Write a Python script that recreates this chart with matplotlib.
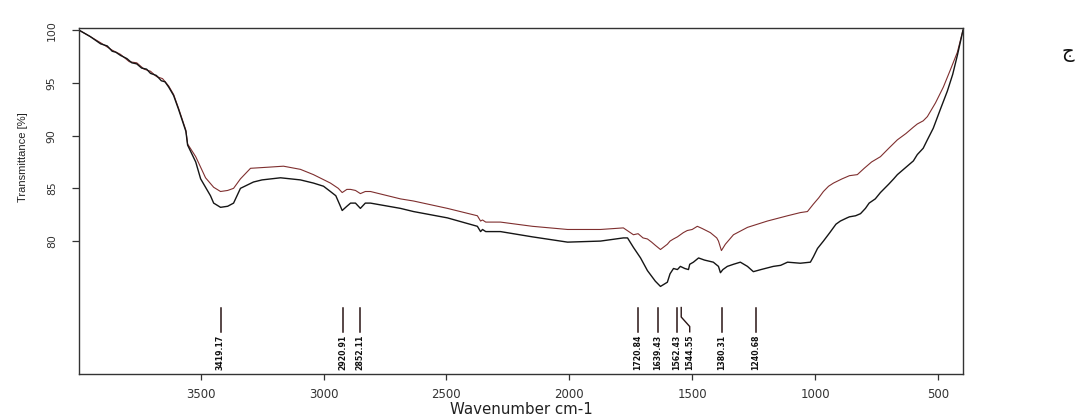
import numpy as np
import matplotlib.pyplot as plt

# -----------------------------
# Data
# -----------------------------
# lower (black) spectrum
wn_black = [3995, 3950, 3907, 3880, 3860, 3845, 3826, 3800, 3780, 3760, 3740, 3720,
            3704, 3680, 3660, 3645, 3630, 3610, 3590, 3560, 3553, 3520, 3500, 3460,
            3447, 3419, 3390, 3366, 3338, 3285, 3250, 3175, 3094, 3041, 3000, 2972,
            2950, 2935, 2924, 2905, 2890, 2870, 2850, 2830, 2809, 2687, 2634, 2496,
            2374, 2361, 2353, 2340, 2280, 2150, 2007, 1873, 1780, 1763, 1739, 1710,
            1682, 1650, 1629, 1601, 1590, 1576, 1560, 1548, 1530, 1515, 1510, 1495,
            1474, 1450, 1414, 1393, 1385, 1375, 1357, 1332, 1304, 1275, 1251, 1220,
            1170, 1140, 1112, 1060, 1019, 1007, 990, 966, 940, 915, 897, 870, 860,
            835, 815, 795, 780, 755, 734, 700, 680, 665, 640, 620, 600, 584, 560, 543,
            519, 490, 462, 440, 421, 398]
tr_black = [100.0, 99.4, 98.7, 98.5, 98.0, 97.9, 97.6, 97.3, 96.9, 96.8, 96.4, 96.3,
            95.9, 95.7, 95.2, 95.1, 94.6, 93.8, 92.5, 90.4, 89.1, 87.5, 85.9, 84.3,
            83.6, 83.2, 83.3, 83.6, 85.0, 85.6, 85.8, 86.0, 85.8, 85.5, 85.2, 84.7,
            84.3, 83.5, 82.9, 83.3, 83.6, 83.6, 83.1, 83.6, 83.6, 83.1, 82.8, 82.2,
            81.4, 80.9, 81.1, 80.9, 80.9, 80.4, 79.9, 80.0, 80.3, 80.3, 79.4, 78.4,
            77.2, 76.2, 75.7, 76.1, 76.9, 77.4, 77.3, 77.6, 77.4, 77.3, 77.8, 78.0,
            78.4, 78.2, 78.0, 77.6, 77.0, 77.3, 77.6, 77.8, 78.0, 77.6, 77.1, 77.3,
            77.6, 77.7, 78.0, 77.9, 78.0, 78.5, 79.3, 80.0, 80.8, 81.6, 81.9, 82.2,
            82.3, 82.4, 82.6, 83.1, 83.6, 84.0, 84.6, 85.4, 85.9, 86.3, 86.8, 87.2,
            87.6, 88.2, 88.8, 89.6, 90.7, 92.5, 94.2, 95.8, 97.6, 100.0]

# upper (dark red) spectrum
wn_red = [3995, 3950, 3907, 3880, 3860, 3826, 3790, 3760, 3730, 3704, 3680, 3655,
          3630, 3610, 3590, 3560, 3553, 3520, 3480, 3447, 3419, 3390, 3366, 3338,
          3297, 3228, 3163, 3094, 3041, 2972, 2940, 2924, 2905, 2890, 2870, 2850,
          2830, 2809, 2687, 2634, 2496, 2374, 2361, 2353, 2340, 2280, 2150, 2007,
          1873, 1780, 1739, 1720, 1700, 1682, 1665, 1650, 1629, 1601, 1590, 1576,
          1560, 1536, 1520, 1500, 1479, 1460, 1426, 1400, 1393, 1381, 1365, 1332,
          1275, 1194, 1112, 1060, 1031, 1007, 985, 966, 945, 925, 890, 860, 828,
          800, 770, 734, 700, 665, 630, 600, 584, 560, 543, 510, 478, 450, 421, 398]
tr_red = [100.0, 99.4, 98.8, 98.4, 98.1, 97.7, 97.0, 96.9, 96.3, 96.1, 95.6, 95.4,
          94.7, 93.9, 92.6, 90.5, 89.2, 88.0, 86.0, 85.1, 84.7, 84.8, 85.0, 85.9,
          86.9, 87.0, 87.1, 86.8, 86.3, 85.5, 85.0, 84.6, 84.9, 84.9, 84.8, 84.5,
          84.7, 84.7, 84.0, 83.8, 83.1, 82.4, 81.9, 82.0, 81.8, 81.8, 81.4, 81.1,
          81.1, 81.25, 80.6, 80.7, 80.3, 80.2, 79.9, 79.6, 79.2, 79.7, 80.0, 80.2,
          80.4, 80.8, 81.0, 81.1, 81.4, 81.2, 80.8, 80.3, 80.0, 79.1, 79.7, 80.6,
          81.3, 81.9, 82.4, 82.7, 82.8, 83.5, 84.1, 84.7, 85.2, 85.5, 85.9, 86.2,
          86.3, 86.9, 87.5, 88.0, 88.8, 89.6, 90.2, 90.8, 91.1, 91.4, 91.8, 93.1,
          94.6, 96.2, 97.9, 100.0]

# peak annotations
peak_pos = [3419.17, 2920.91, 2852.11, 1720.84, 1639.43, 1562.43, 1544.55, 1380.31, 1240.68]
peak_lbl = ["3419.17", "2920.91", "2852.11", "1720.84", "1639.43", "1562.43", "1544.55",
            "1380.31", "1240.68"]
label_pos = [3419.17, 2920.91, 2852.11, 1720.84, 1639.43, 1565.0, 1510.0, 1380.31, 1240.68]

x_ticks = [3500, 3000, 2500, 2000, 1500, 1000, 500]
y_ticks = [80, 85, 90, 95, 100]

# -----------------------------
# Figure
# -----------------------------
fig = plt.figure(figsize=(10.79, 4.18), dpi=100)
ax = fig.add_axes([0.0732, 0.1053, 0.8193, 0.8277])

ax.plot(wn_red, tr_red, color="#7f2f2f", lw=0.8)
ax.plot(wn_black, tr_black, color="#151515", lw=1.0)

# peak markers (vertical ticks with rotated labels)
top, bottom = 73.7, 71.4
for p, lp, s in zip(peak_pos, label_pos, peak_lbl):
    if abs(p - lp) < 5:
        ax.plot([p, p], [top, bottom], color="#2a1515", lw=1.1)
    else:
        ax.plot([p, p, lp, lp], [top, 72.8, 71.9, bottom], color="#2a1515", lw=1.0)
    ax.text(lp, 71.15, s, rotation=90, ha="center", va="top", fontweight="bold",
            fontsize=5.6, family=["Liberation Sans Narrow", "DejaVu Sans"], color="#111")

ax.set_xlim(3995, 398)
ax.set_ylim(67.4, 100.2)
ax.set_xticks(x_ticks)
ax.set_yticks(y_ticks)
ax.set_xticklabels([str(t) for t in x_ticks], fontsize=8.5, color="#222")
ax.set_yticklabels([str(t) for t in y_ticks], fontsize=7.8, rotation=90,
                   va="center", color="#222")
ax.tick_params(axis="x", length=4, width=0.9, pad=6, colors="#333")
ax.tick_params(axis="y", length=5, width=0.9, pad=11, colors="#333")

for sp in ax.spines.values():
    sp.set_color("#333")
    sp.set_linewidth(1.0)

ax.set_xlabel("Wavenumber cm-1", fontsize=10.8, color="#222", labelpad=1)
ax.set_ylabel("Transmittance [%]", fontsize=8, color="#222",
              family=["Liberation Sans", "DejaVu Sans"])
ax.yaxis.set_label_coords(-0.058, 0.627)

fig.text(1068 / 1079, 1 - 52 / 418, "ج", fontsize=14, ha="center", va="center",
         family=["DejaVu Sans"], color="#111")

fig.savefig("out.png", dpi=100)
